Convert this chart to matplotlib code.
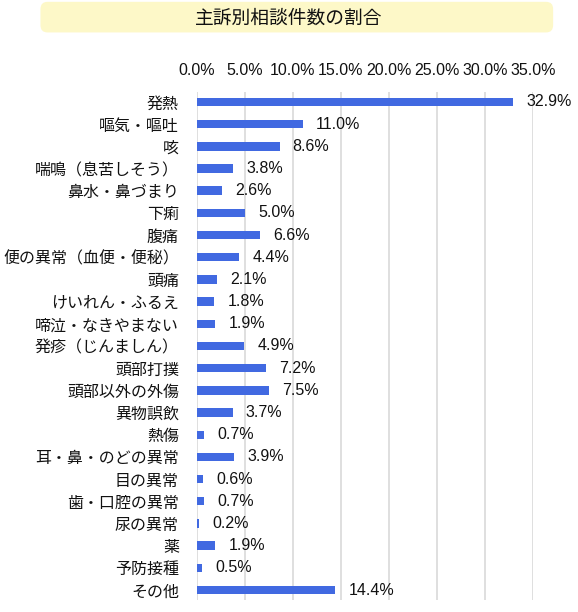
import matplotlib.pyplot as plt
from matplotlib.patches import FancyBboxPatch
from matplotlib.ticker import FuncFormatter

plt.rcParams['font.family'] = ['Noto Sans CJK JP', 'DejaVu Sans']
num_font = ['Liberation Sans Narrow', 'Liberation Sans', 'DejaVu Sans']

categories = ['発熱', '嘔気・嘔吐', '咳', '喘鳴（息苦しそう）', '鼻水・鼻づまり', '下痢', '腹痛',
              '便の異常（血便・便秘）', '頭痛', 'けいれん・ふるえ', '啼泣・なきやまない',
              '発疹（じんましん）', '頭部打撲', '頭部以外の外傷', '異物誤飲', '熱傷',
              '耳・鼻・のどの異常', '目の異常', '歯・口腔の異常', '尿の異常', '薬', '予防接種', 'その他']
values = [32.9, 11.0, 8.6, 3.8, 2.6, 5.0, 6.6, 4.4, 2.1, 1.8, 1.9, 4.9, 7.2, 7.5,
          3.7, 0.7, 3.9, 0.6, 0.7, 0.2, 1.9, 0.5, 14.4]
title = '主訴別相談件数の割合'

fig = plt.figure(figsize=(5.78, 6.12), dpi=100)
ax = fig.add_axes([0.3408, 0.0196, 0.5813, 0.8301])

y = range(len(categories))
ax.barh(y, values, height=0.38, color='#4169e1', zorder=3)
for i, v in enumerate(values):
    ax.annotate(f'{v:.1f}%', xy=(v, i), xytext=(9.5, 0), textcoords='offset points',
                va='center', ha='left', fontsize=11.5, color='#111111', family=num_font)

ax.set_xlim(0, 35)
ax.set_ylim(len(categories) - 0.55, -0.45)
ax.set_xticks([0, 5, 10, 15, 20, 25, 30, 35])
ax.xaxis.set_major_formatter(FuncFormatter(lambda x, p: f'{x:.1f}%'))
ax.xaxis.tick_top()
ax.tick_params(axis='x', length=0, pad=10, labelsize=11.5, labelcolor='#111111')
for lbl in ax.get_xticklabels():
    lbl.set_family(num_font)
ax.set_yticks(list(y))
ax.set_yticklabels(categories, fontsize=11.5, color='#111111')
ax.tick_params(axis='y', length=0, pad=13)
ax.grid(axis='x', color='#d9d9d9', linewidth=1.2, zorder=0)
for s in ax.spines.values():
    s.set_visible(False)

box = FancyBboxPatch((0.07, 0.947), 0.887, 0.05, boxstyle='round,pad=0,rounding_size=0.012',
                     transform=fig.transFigure, facecolor='#fdf8c8', edgecolor='none')
fig.patches.append(box)
fig.text(0.5, 0.971, title, ha='center', va='center', fontsize=13.5, color='#111111')

fig.savefig('out.png', dpi=100)
